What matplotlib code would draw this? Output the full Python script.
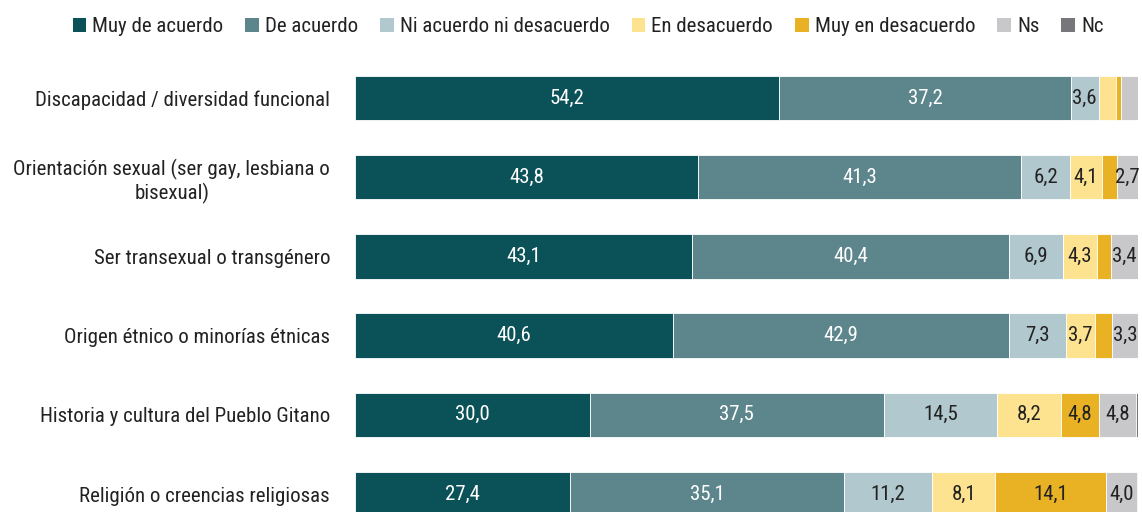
import numpy as np
import matplotlib.pyplot as plt
from matplotlib.patches import Patch
from matplotlib import font_manager

# datos
categorias = ["Discapacidad / diversidad funcional",
              "Orientación sexual (ser gay, lesbiana o\nbisexual)",
              "Ser transexual o transgénero",
              "Origen étnico o minorías étnicas",
              "Historia y cultura del Pueblo Gitano",
              "Religión o creencias religiosas"]
series = ["Muy de acuerdo", "De acuerdo", "Ni acuerdo ni desacuerdo",
          "En desacuerdo", "Muy en desacuerdo", "Ns", "Nc"]
muy_de_acuerdo = [54.2, 43.8, 43.1, 40.6, 30.0, 27.4]
de_acuerdo = [37.2, 41.3, 40.4, 42.9, 37.5, 35.1]
ni_ni = [3.6, 6.2, 6.9, 7.3, 14.5, 11.2]
en_desacuerdo = [2.2, 4.1, 4.3, 3.7, 8.2, 8.1]
muy_en_desacuerdo = [0.6, 1.9, 1.9, 2.2, 4.8, 14.1]
ns = [2.2, 2.7, 3.4, 3.3, 4.8, 4.0]
nc = [0.0, 0.0, 0.0, 0.0, 0.2, 0.1]

colores = ["#0b5258", "#5c858c", "#b0c8ce", "#fde28f", "#e9b124", "#c8c8ca", "#77777b"]
color_texto = ["white", "white", "#222222", "#222222", "#222222", "#222222", "#222222"]

# buscar una fuente estrecha (condensed / narrow)
candidatos = []
for f in font_manager.fontManager.ttflist:
    n = f.fname.lower()
    if ("condensed" in n or "narrow" in n) and "bold" not in n and "italic" not in n \
            and "oblique" not in n and "light" not in n and "mono" not in n \
            and "serif" not in n.replace("sans", ""):
        candidatos.append(f.fname)
prefs = ["robotocondensed", "liberationsansnarrow", "dejavusanscondensed"]
candidatos.sort(key=lambda p: next((k for k, s in enumerate(prefs)
                                    if s in p.lower().replace("-", "").replace("_", "")), 9))
if candidatos:
    fp = lambda size: font_manager.FontProperties(fname=candidatos[0], size=size)
    tam = 15
else:
    fp = lambda size: font_manager.FontProperties(family="Roboto", size=size)
    tam = 13

datos = np.array([muy_de_acuerdo, de_acuerdo, ni_ni, en_desacuerdo,
                  muy_en_desacuerdo, ns, nc])

fig = plt.figure(figsize=(11.42, 5.12), dpi=100)
ax = fig.add_axes([355/1142, 0, (1138-355)/1142, (512-60)/512])

y = np.arange(len(categorias))
izq = np.zeros(len(categorias))
for i, serie in enumerate(series):
    ax.barh(y, datos[i], left=izq, height=0.56, color=colores[i],
            edgecolor="white", linewidth=0.6)
    for j in range(len(categorias)):
        v = datos[i][j]
        if v >= 2.5:
            ax.text(izq[j] + v/2, y[j], f"{v:.1f}".replace(".", ","),
                    ha="center", va="center", fontproperties=fp(tam), color=color_texto[i])
    izq += datos[i]

ax.set_xlim(0, 100)
ax.set_ylim(5.227, -0.48)
ax.set_yticks(y)
ax.set_yticklabels(categorias, color="#222222", multialignment="center")
for t in ax.get_yticklabels():
    t.set_fontproperties(fp(tam))
ax.tick_params(axis="y", length=0, pad=18)
ax.set_xticks([])
for s in ax.spines.values():
    s.set_visible(False)

handles = [Patch(facecolor=c, edgecolor="none") for c in colores]
fig.legend(handles, series, loc="center", bbox_to_anchor=(588/1142, 1 - 27/512),
           ncol=7, frameon=False, prop=fp(tam), handlelength=0.65, handleheight=0.65,
           handletextpad=0.3, columnspacing=1.05, labelcolor="#222222")

fig.savefig("out.png", dpi=100)
